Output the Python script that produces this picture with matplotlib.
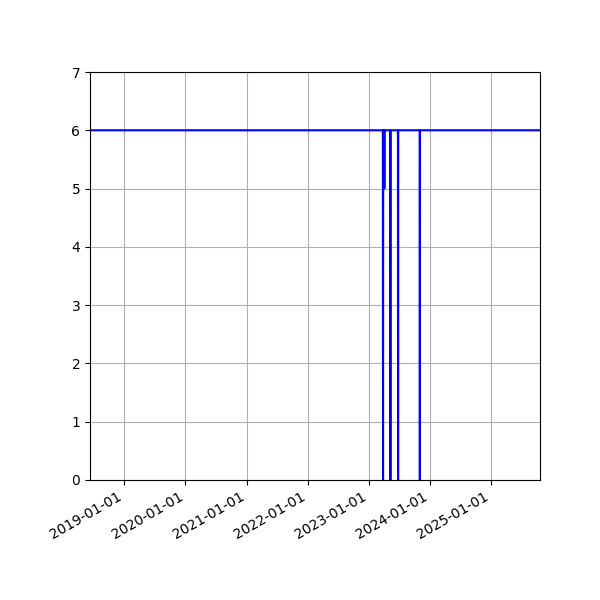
import matplotlib
matplotlib.use("Agg")
import matplotlib.pyplot as plt
import matplotlib.dates as mdates
import numpy as np

dates = ["2018-06-10", "2023-03-26", "2023-03-27", "2023-03-28",
         "2023-04-03", "2023-04-04", "2023-04-05",
         "2023-05-09", "2023-05-10", "2023-05-11",
         "2023-06-24", "2023-06-25", "2023-06-26",
         "2023-11-01", "2023-11-02", "2023-11-03", "2025-10-20"]
values = [6, 6, 0, 6, 6, 5, 6, 6, 0, 6, 6, 0, 6, 6, 0, 6, 6]

x = np.array(dates, dtype="datetime64[D]")

fig, ax = plt.subplots(figsize=(6, 6), dpi=100)
ax.plot(x, values, color="blue", linewidth=1.5)
ax.set_xlim(x[0], x[-1])
ax.set_ylim(0, 7)
ax.grid(True)
ax.xaxis.set_major_locator(mdates.YearLocator())
ax.xaxis.set_major_formatter(mdates.DateFormatter("%Y-%m-%d"))
fig.autofmt_xdate()
fig.subplots_adjust(left=0.15, right=0.9, top=0.88, bottom=0.2)
fig.savefig("out.png")
